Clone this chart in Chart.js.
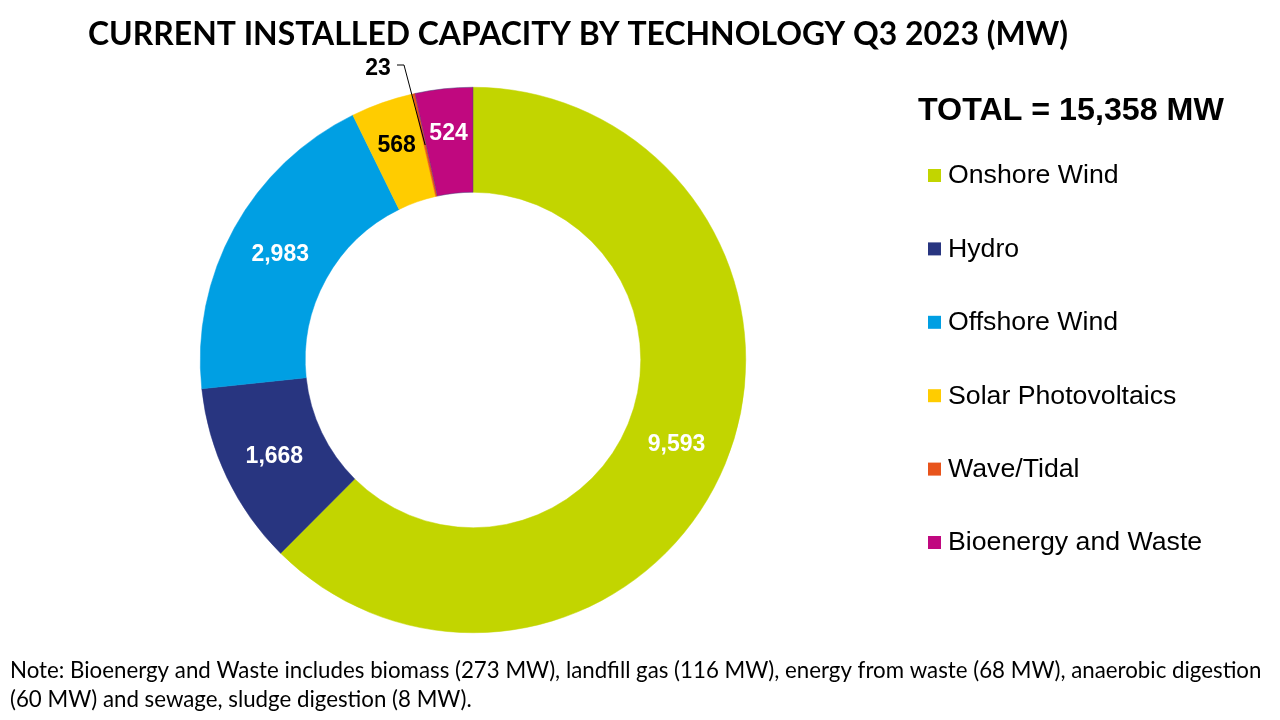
<!DOCTYPE html>
<html>
<head>
<meta charset="utf-8">
<script src="https://cdn.jsdelivr.net/npm/chart.js@4.4.0/dist/chart.umd.min.js"></script>
<style>
  html, body { margin: 0; padding: 0; background: #fff; }
  #wrap { width: 1280px; height: 720px; position: relative; }
</style>
</head>
<body>
<div id="wrap"><canvas id="capacityChart"></canvas></div>
<script>
// data
const technologies = ['Onshore Wind', 'Hydro', 'Offshore Wind', 'Solar Photovoltaics', 'Wave/Tidal', 'Bioenergy and Waste'];
const capacityMW = [9593, 1668, 2983, 568, 23, 524];
const sliceColours = ['#C2D500', '#283580', '#009FE3', '#FFCC00', '#E8541C', '#C0087F'];
const labelColours = ['#fff', '#fff', '#fff', '#000', '#000', '#fff'];
const titleText = 'CURRENT INSTALLED CAPACITY BY TECHNOLOGY Q3 2023 (MW)';
const totalText = 'TOTAL = 15,358 MW';
const noteLines = [
    'Note: Bioenergy and Waste includes biomass (273 MW), landfill gas (116 MW), energy from waste (68 MW), anaerobic digestion',
    '(60 MW) and sewage, sludge digestion (8 MW).'
];

function fitFont(ctx, text, weight, family, width) {
    ctx.font = weight + ' 20px ' + family;
    const w = ctx.measureText(text).width;
    return weight + ' ' + (20 * width / w).toFixed(2) + 'px ' + family;
}

const textPlugin = {
    id: 'textPlugin',
    afterDraw: function(chart) {
        const ctx = chart.ctx;
        ctx.save();
        ctx.fillStyle = '#000';
        ctx.textBaseline = 'middle';
        ctx.textAlign = 'left';

        // title
        ctx.font = fitFont(ctx, titleText, 'bold', 'Lato', 980);
        ctx.fillText(titleText, 88, 35);

        // total
        ctx.font = fitFont(ctx, totalText, 'bold', '"Liberation Sans", Arial', 306);
        ctx.fillText(totalText, 918, 111);

        // legend
        ctx.font = '26.7px "Liberation Sans", Arial';
        technologies.forEach(function(name, i) {
            const y = 175 + i * 73.4;
            ctx.fillStyle = sliceColours[i];
            ctx.fillRect(928, y - 6, 13, 13);
            ctx.fillStyle = '#000';
            ctx.fillText(name, 948, y + 1);
        });

        // note
        ctx.font = fitFont(ctx, noteLines[0], 'normal', 'Lato', 1252);
        ctx.fillText(noteLines[0], 10, 671);
        ctx.fillText(noteLines[1], 10, 700);

        // slice labels
        const meta = chart.getDatasetMeta(0);
        ctx.font = 'bold 23px "Liberation Sans", Arial';
        ctx.textAlign = 'center';
        meta.data.forEach(function(arc, i) {
            const txt = capacityMW[i].toLocaleString('en-US');
            const mid = (arc.startAngle + arc.endAngle) / 2;
            if (capacityMW[i] < 100) {
                // small slice: label outside with leader line
                const r = (arc.innerRadius + arc.outerRadius) / 2;
                const px = arc.x + Math.cos(mid) * r;
                const py = arc.y + Math.sin(mid) * r;
                ctx.strokeStyle = '#000';
                ctx.lineWidth = 1;
                ctx.beginPath();
                ctx.moveTo(397, 65);
                ctx.lineTo(404, 65);
                ctx.lineTo(px, py);
                ctx.stroke();
                ctx.fillStyle = labelColours[i];
                ctx.fillText(txt, 378, 69);
            } else {
                // narrow slices sit a bit further out, as in the picture
                const r = capacityMW[i] < 1000 ? arc.outerRadius - 44 : (arc.innerRadius + arc.outerRadius) / 2;
                ctx.fillStyle = labelColours[i];
                ctx.fillText(txt, arc.x + Math.cos(mid) * r, arc.y + Math.sin(mid) * r + 1);
            }
        });
        ctx.restore();
    }
};

const ctx = document.getElementById('capacityChart').getContext('2d');
const capacityChart = new Chart(ctx, {
    type: 'doughnut',
    data: {
        labels: technologies,
        datasets: [{
            data: capacityMW,
            backgroundColor: sliceColours,
            borderWidth: 0.5,
            borderColor: ['#C2D500', '#283580', '#009FE3', '#FFCC00', '#E8541C', '#4B3C7A']
        }]
    },
    options: {
        responsive: true,
        maintainAspectRatio: false,
        animation: false,
        cutout: '61.5%',
        layout: {
            padding: { left: 200, right: 534, top: 87, bottom: 87 }
        },
        plugins: {
            legend: { display: false },
            title: { display: false },
            tooltip: { enabled: false }
        }
    },
    plugins: [textPlugin]
});
</script>
</body>
</html>
